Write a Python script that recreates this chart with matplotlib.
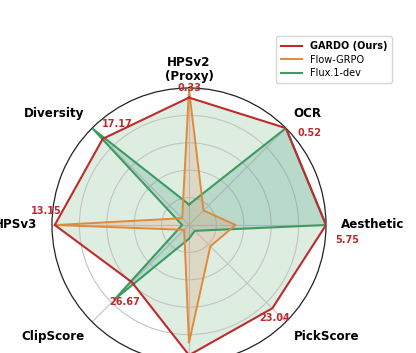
import numpy as np
import matplotlib
matplotlib.use('Agg')
import matplotlib.pyplot as plt

# axes, clockwise from top
metrics = ['HPSv2\n(Proxy)', 'OCR', 'Aesthetic', 'PickScore', 'ImageReward',
           'ClipScore', 'HPSv3', 'Diversity']
# raw GARDO scores printed next to each axis
gardo_raw = ['0.33', '0.52', '5.75', '23.04', '1.18', '26.67', '13.15', '17.17']

# normalised radii
gardo = [0.93, 1.00, 1.00, 0.86, 0.95, 0.59, 0.98, 0.89]
flow_grpo = [0.99, 0.15, 0.34, 0.22, 0.86, 0.05, 0.97, 0.07]
flux = [0.15, 1.00, 1.00, 0.06, 0.10, 0.77, 0.05, 0.99]

C_RED = '#bf2a2d'
C_ORANGE = '#e08a3c'
C_GREEN = '#3f9a62'

n = len(metrics)
angles = np.arange(n) * 2 * np.pi / n
closed = np.append(angles, angles[0])

fig = plt.figure(figsize=(4.16, 3.53), dpi=100)
fig.patch.set_facecolor('white')

# polar axes runs off the left and bottom of the canvas like the original crop
R_PX, CX, CY = 137, 189, 128
ax = fig.add_axes([(CX - R_PX) / 416, (CY - R_PX) / 353, 2 * R_PX / 416, 2 * R_PX / 353],
                  projection='polar')
ax.set_theta_offset(np.pi / 2)
ax.set_theta_direction(-1)
ax.set_ylim(0, 1.0)
ax.set_xticks(angles)
ax.set_xticklabels([])
ax.set_yticks([0.2, 0.4, 0.6, 0.8])
ax.set_yticklabels([])
ax.grid(color='#c4c4c4', lw=0.8)
ax.spines['polar'].set_color('#222222')
ax.spines['polar'].set_linewidth(0.9)

# fills (the GARDO area is tinted green in the original)
ax.fill(closed, np.append(gardo, gardo[0]), color='#55a868', alpha=0.2, lw=0, zorder=1)
ax.fill(closed, np.append(flux, flux[0]), color='#2a8a7a', alpha=0.2, lw=0, zorder=2)
ax.fill(closed, np.append(flow_grpo, flow_grpo[0]), color='#dd8452', alpha=0.2, lw=0, zorder=3)

ax.plot(closed, np.append(flux, flux[0]), color=C_GREEN, lw=1.5, zorder=4, label='Flux.1-dev')
ax.plot(closed, np.append(flow_grpo, flow_grpo[0]), color=C_ORANGE, lw=1.4, zorder=5, label='Flow-GRPO')
ax.plot(closed, np.append(gardo, gardo[0]), color=C_RED, lw=1.5, zorder=6, label='GARDO (Ours)')

# metric names, aligned away from the circle
for a, name in zip(angles, metrics):
    c, s = np.sin(a), np.cos(a)   # screen x / y direction for this axis
    if abs(c) < 1e-6:
        ha = 'center'
        va = 'bottom' if s > 0 else 'top'
        r = 1.04 if s > 0 else 1.2
    else:
        ha = 'left' if c > 0 else 'right'
        va = 'center' if abs(s) < 1e-6 else ('bottom' if s > 0 else 'top')
        r = 1.11 if abs(s) < 1e-6 else 1.08
    ax.text(a, r, name, ha=ha, va=va, fontsize=8.6, fontweight='bold',
            color='black', linespacing=1.1, clip_on=False)

# GARDO raw values next to its points
offsets = [(0, 10), (24, -5), (21, -15), (2, -10), (0, -12), (-7, -20), (-8, 14), (15, 15)]
for a, r, txt, off in zip(angles, gardo, gardo_raw, offsets):
    ax.annotate(txt, xy=(a, r), xytext=off, textcoords='offset pixels',
                ha='center', va='center', fontsize=7, fontweight='bold',
                color=C_RED, zorder=7, annotation_clip=False)

h, l = ax.get_legend_handles_labels()
order = [2, 1, 0]
leg = fig.legend([h[i] for i in order], [l[i] for i in order],
                 loc='upper right', bbox_to_anchor=(0.955, 0.911),
                 fontsize=7, frameon=True, handlelength=2.2, borderpad=0.5,
                 labelspacing=0.35)
leg.get_frame().set_edgecolor('#cccccc')
leg.get_texts()[0].set_fontweight('bold')

fig.savefig('out.png', dpi=100, facecolor='white')
